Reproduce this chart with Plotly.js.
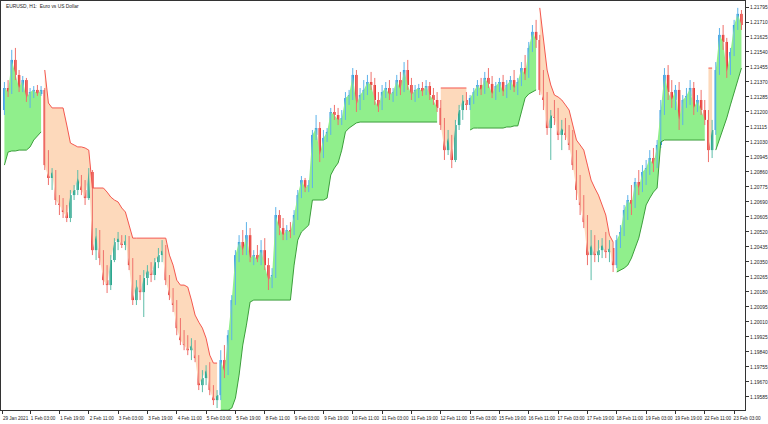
<!DOCTYPE html>
<html>
<head>
<meta charset="utf-8">
<script src="https://cdn.plot.ly/plotly-3.0.1.min.js"></script>
<style>html,body{margin:0;padding:0;background:#fff;}#chart{width:768px;height:424px;}</style>
</head>
<body>
<div id="chart"></div>
<script>
// EURUSD candles (2-hour sampling of the H1 chart), prices
const openP = [
1.21211,1.21336,1.21313,1.21495,1.21410,1.21336,1.21381,1.21279,1.21313,1.21325,
1.21302,1.21325,1.20899,1.20826,1.20860,1.20701,1.20673,1.20633,1.20599,1.20729,
1.20758,1.20826,1.20758,1.20712,1.20860,1.20417,1.20502,1.20372,1.20247,1.20219,
1.20361,1.20463,1.20485,1.20446,1.20474,1.20332,1.20134,1.20219,1.20179,1.20259,
1.20304,1.20276,1.20349,1.20389,1.20417,1.20247,1.20162,1.20106,1.19975,1.19907,
1.19879,1.19850,1.19879,1.19805,1.19652,1.19692,1.19737,1.19624,1.19567,1.19595,
1.19794,1.19726,1.19935,1.20134,1.20389,1.20463,1.20417,1.20502,1.20372,1.20389,
1.20361,1.20417,1.20332,1.20247,1.20276,1.20616,1.20542,1.20502,1.20531,1.20520,
1.20616,1.20729,1.20814,1.20769,1.20786,1.21070,1.21109,1.20956,1.21053,1.21087,
1.21200,1.21183,1.21155,1.21166,1.21279,1.21296,1.21410,1.21240,1.21296,1.21325,
1.21370,1.21353,1.21268,1.21223,1.21313,1.21336,1.21296,1.21313,1.21381,1.21325,
1.21438,1.21353,1.21296,1.21325,1.21336,1.21313,1.21347,1.21296,1.21268,1.21223,
1.21126,1.20984,1.21053,1.20928,1.21126,1.21211,1.21268,1.21240,1.21279,1.21313,
1.21353,1.21325,1.21393,1.21359,1.21302,1.21347,1.21370,1.21313,1.21353,1.21381,
1.21336,1.21370,1.21449,1.21410,1.21563,1.21654,1.21608,1.21325,1.21268,1.21109,
1.21183,1.21166,1.21070,1.21109,1.21070,1.21013,1.20899,1.20758,1.20673,1.20576,
1.20389,1.20446,1.20389,1.20417,1.20446,1.20406,1.20429,1.20332,1.20474,1.20520,
1.20644,1.20701,1.20673,1.20803,1.20769,1.20860,1.20882,1.20939,1.20899,1.21013,
1.21211,1.21410,1.21313,1.21268,1.21325,1.21155,1.21268,1.21291,1.21336,1.21223,
1.21268,1.21211,1.21155,1.20984,1.21098,1.21438,1.21637,1.21597,1.21427,1.21540,
1.21693,1.21756];
const highP = [
1.21370,1.21381,1.21552,1.21563,1.21438,1.21404,1.21393,1.21336,1.21347,1.21353,
1.21347,1.21336,1.20984,1.20882,1.20871,1.20729,1.20712,1.20673,1.20758,1.20786,
1.20871,1.20843,1.20814,1.20882,1.20871,1.20542,1.20531,1.20417,1.20332,1.20389,
1.20485,1.20520,1.20502,1.20502,1.20497,1.20372,1.20247,1.20276,1.20304,1.20332,
1.20349,1.20372,1.20429,1.20474,1.20446,1.20276,1.20202,1.20134,1.20032,1.19964,
1.19935,1.19918,1.19907,1.19822,1.19737,1.19765,1.19782,1.19652,1.19624,1.19850,
1.19879,1.19964,1.20162,1.20417,1.20502,1.20531,1.20576,1.20542,1.20417,1.20446,
1.20474,1.20485,1.20372,1.20315,1.20661,1.20644,1.20599,1.20559,1.20576,1.20644,
1.20758,1.20837,1.20826,1.20814,1.21098,1.21183,1.21143,1.21098,1.21109,1.21223,
1.21240,1.21223,1.21211,1.21313,1.21325,1.21449,1.21438,1.21336,1.21381,1.21410,
1.21427,1.21393,1.21313,1.21353,1.21370,1.21381,1.21336,1.21410,1.21427,1.21483,
1.21495,1.21393,1.21353,1.21359,1.21370,1.21381,1.21370,1.21336,1.21313,1.21268,
1.21166,1.21098,1.21070,1.21155,1.21240,1.21296,1.21313,1.21296,1.21336,1.21381,
1.21393,1.21427,1.21449,1.21404,1.21370,1.21393,1.21410,1.21381,1.21404,1.21438,
1.21393,1.21483,1.21523,1.21597,1.21693,1.21722,1.21637,1.21438,1.21313,1.21211,
1.21268,1.21223,1.21155,1.21166,1.21126,1.21098,1.20984,1.20843,1.20729,1.20616,
1.20531,1.20502,1.20474,1.20485,1.20520,1.20474,1.20463,1.20502,1.20559,1.20673,
1.20729,1.20786,1.20826,1.20871,1.20899,1.20928,1.20984,1.20996,1.21041,1.21268,
1.21449,1.21466,1.21381,1.21353,1.21370,1.21296,1.21336,1.21381,1.21370,1.21296,
1.21325,1.21268,1.21211,1.21155,1.21483,1.21676,1.21693,1.21620,1.21563,1.21722,
1.21790,1.21778];
const lowP = [
1.21183,1.21285,1.21302,1.21381,1.21313,1.21313,1.21257,1.21223,1.21279,1.21291,
1.21291,1.20871,1.20786,1.20758,1.20673,1.20616,1.20599,1.20576,1.20576,1.20701,
1.20729,1.20729,1.20673,1.20701,1.20389,1.20361,1.20332,1.20219,1.20174,1.20191,
1.20349,1.20417,1.20429,1.20417,1.20304,1.20106,1.20106,1.20134,1.20038,1.20219,
1.20236,1.20247,1.20315,1.20349,1.20219,1.20134,1.20066,1.19935,1.19879,1.19850,
1.19822,1.19794,1.19782,1.19624,1.19612,1.19652,1.19595,1.19539,1.19522,1.19567,
1.19692,1.19709,1.19907,1.20106,1.20349,1.20389,1.20389,1.20349,1.20332,1.20349,
1.20332,1.20304,1.20191,1.20202,1.20259,1.20502,1.20474,1.20474,1.20485,1.20502,
1.20588,1.20712,1.20746,1.20746,1.20769,1.21041,1.20916,1.20939,1.21030,1.21070,
1.21155,1.21126,1.21126,1.21155,1.21240,1.21268,1.21200,1.21211,1.21268,1.21296,
1.21325,1.21240,1.21200,1.21211,1.21279,1.21268,1.21257,1.21291,1.21296,1.21313,
1.21325,1.21268,1.21257,1.21279,1.21291,1.21296,1.21268,1.21240,1.21200,1.21098,
1.20928,1.20956,1.20882,1.20916,1.21098,1.21155,1.21211,1.21211,1.21245,1.21291,
1.21296,1.21302,1.21336,1.21279,1.21268,1.21313,1.21291,1.21279,1.21325,1.21313,
1.21296,1.21347,1.21381,1.21393,1.21540,1.21563,1.21296,1.21211,1.21070,1.20928,
1.21126,1.21041,1.20984,1.21041,1.20984,1.20871,1.20701,1.20616,1.20542,1.20332,
1.20247,1.20349,1.20349,1.20372,1.20372,1.20349,1.20293,1.20315,1.20429,1.20497,
1.20588,1.20616,1.20656,1.20729,1.20746,1.20786,1.20843,1.20860,1.20882,1.20996,
1.21183,1.21268,1.21223,1.21211,1.21098,1.21126,1.21223,1.21240,1.21183,1.21200,
1.21183,1.21126,1.20916,1.20939,1.21070,1.21410,1.21552,1.21393,1.21410,1.21517,
1.21665,1.21665];
const closeP = [
1.21336,1.21313,1.21495,1.21410,1.21336,1.21381,1.21279,1.21313,1.21325,1.21302,
1.21325,1.20899,1.20826,1.20860,1.20701,1.20673,1.20633,1.20599,1.20729,1.20758,
1.20826,1.20758,1.20712,1.20860,1.20417,1.20502,1.20372,1.20247,1.20219,1.20361,
1.20463,1.20485,1.20446,1.20474,1.20332,1.20134,1.20219,1.20179,1.20259,1.20304,
1.20276,1.20349,1.20389,1.20417,1.20247,1.20162,1.20106,1.19975,1.19907,1.19879,
1.19850,1.19879,1.19805,1.19652,1.19692,1.19737,1.19624,1.19567,1.19595,1.19794,
1.19726,1.19935,1.20134,1.20389,1.20463,1.20417,1.20502,1.20372,1.20389,1.20361,
1.20417,1.20332,1.20247,1.20276,1.20616,1.20542,1.20502,1.20531,1.20520,1.20616,
1.20729,1.20814,1.20769,1.20786,1.21070,1.21109,1.20956,1.21053,1.21087,1.21200,
1.21183,1.21155,1.21166,1.21279,1.21296,1.21410,1.21240,1.21296,1.21325,1.21370,
1.21353,1.21268,1.21223,1.21313,1.21336,1.21296,1.21313,1.21381,1.21325,1.21438,
1.21353,1.21296,1.21325,1.21336,1.21313,1.21347,1.21296,1.21268,1.21223,1.21126,
1.20984,1.21053,1.20928,1.21126,1.21211,1.21268,1.21240,1.21279,1.21313,1.21353,
1.21325,1.21393,1.21359,1.21302,1.21347,1.21370,1.21313,1.21353,1.21381,1.21336,
1.21370,1.21449,1.21410,1.21563,1.21654,1.21608,1.21325,1.21268,1.21109,1.21183,
1.21166,1.21070,1.21109,1.21070,1.21013,1.20899,1.20758,1.20673,1.20576,1.20389,
1.20446,1.20389,1.20417,1.20446,1.20406,1.20429,1.20332,1.20474,1.20520,1.20644,
1.20701,1.20673,1.20803,1.20769,1.20860,1.20882,1.20939,1.20899,1.21013,1.21211,
1.21410,1.21313,1.21268,1.21325,1.21155,1.21268,1.21291,1.21336,1.21223,1.21268,
1.21211,1.21155,1.20984,1.21098,1.21438,1.21637,1.21597,1.21427,1.21540,1.21693,
1.21756,1.21693];
// Trailing stop line of the indicator
const stopP = [
1.20899,1.20973,1.20979,1.20979,1.20984,1.20984,1.20984,1.21002,1.21041,1.21064,
1.21087,1.21438,1.21251,1.21223,1.21223,1.21223,1.21223,1.21126,1.21024,1.21013,
1.21002,1.21002,1.20996,1.20984,1.20769,1.20769,1.20769,1.20769,1.20746,1.20718,
1.20701,1.20690,1.20656,1.20633,1.20559,1.20485,1.20485,1.20485,1.20485,1.20485,
1.20485,1.20485,1.20485,1.20485,1.20485,1.20389,1.20332,1.20247,1.20219,1.20219,
1.20208,1.20134,1.20049,1.20009,1.19975,1.19918,1.19822,1.19777,1.19777,1.19510,
1.19510,1.19510,1.19522,1.19578,1.19709,1.19879,1.19992,1.20123,1.20134,1.20134,
1.20134,1.20134,1.20134,1.20134,1.20134,1.20134,1.20134,1.20134,1.20134,1.20332,
1.20474,1.20520,1.20542,1.20559,1.20701,1.20701,1.20701,1.20701,1.20712,1.20843,
1.20882,1.20911,1.20984,1.21087,1.21109,1.21126,1.21138,1.21143,1.21143,1.21143,
1.21143,1.21143,1.21143,1.21143,1.21143,1.21143,1.21143,1.21143,1.21143,1.21143,
1.21143,1.21143,1.21143,1.21143,1.21143,1.21143,1.21143,1.21143,1.21143,1.21336,
1.21336,1.21336,1.21336,1.21336,1.21336,1.21336,1.21336,1.21098,1.21109,1.21109,
1.21109,1.21109,1.21109,1.21109,1.21109,1.21109,1.21109,1.21115,1.21115,1.21121,
1.21121,1.21200,1.21279,1.21302,1.21313,1.21325,1.21790,1.21608,1.21438,1.21353,
1.21296,1.21285,1.21268,1.21240,1.21211,1.21126,1.21041,1.21013,1.20984,1.20899,
1.20814,1.20769,1.20729,1.20673,1.20616,1.20502,1.20463,1.20293,1.20304,1.20315,
1.20332,1.20372,1.20429,1.20485,1.20576,1.20673,1.20712,1.20746,1.20769,1.21030,
1.21041,1.21041,1.21041,1.21041,1.21041,1.21041,1.21041,1.21041,1.21041,1.21041,
1.21041,1.21041,1.21449,1.21449,1.20984,1.21041,1.21109,1.21166,1.21240,1.21313,
1.21381,1.21449];
// Axis labels
const xTickBars = [-0.5,7,15,23,31,39,47,55,63,71,79,87,95,103,111,119,127,135,143,151,159,167,175,183,191,199];
const xTickText = ['29 Jan 2021','1 Feb 03:00','1 Feb 19:00','2 Feb 11:00','3 Feb 03:00','3 Feb 19:00','4 Feb 11:00',
'5 Feb 03:00','5 Feb 19:00','8 Feb 11:00','9 Feb 03:00','9 Feb 19:00','10 Feb 11:00','11 Feb 03:00','11 Feb 19:00',
'12 Feb 11:00','15 Feb 03:00','15 Feb 19:00','16 Feb 11:00','17 Feb 03:00','17 Feb 19:00','18 Feb 11:00',
'19 Feb 03:00','19 Feb 19:00','22 Feb 11:00','23 Feb 03:00'];
const yTickVals = [1.19585,1.19670,1.19755,1.19840,1.19925,1.20010,1.20095,1.20180,1.20265,1.20350,1.20435,
1.20520,1.20605,1.20690,1.20775,1.20860,1.20945,1.21030,1.21115,1.21200,1.21285,1.21370,1.21455,1.21540,
1.21625,1.21710,1.21795];
const chartTitle = 'EURUSD, H1:  Euro vs US Dollar';

// ---- build traces ----
const N = closeP.length;
const idx = closeP.map((_, i) => i);
const isUp = closeP.map((c, i) => c > stopP[i]);
const runs = [];
let st = 0;
for (let i = 1; i <= N; i++) {
  if (i === N || isUp[i] !== isUp[st]) { runs.push({a: st, b: i - 1, up: isUp[st]}); st = i; }
}
const traces = [];
runs.forEach(r => {
  const xs = idx.slice(r.a, r.b + 1);
  traces.push({x: xs, y: stopP.slice(r.a, r.b + 1), mode: 'lines', type: 'scatter',
    line: {width: 0, color: 'rgba(0,0,0,0)'}, hoverinfo: 'skip', showlegend: false});
  traces.push({x: xs, y: closeP.slice(r.a, r.b + 1), mode: 'lines', type: 'scatter',
    line: {width: 0, color: 'rgba(0,0,0,0)'}, fill: 'tonexty',
    fillcolor: r.up ? '#90ef8c' : '#fdd9bb', hoverinfo: 'skip', showlegend: false});
});
// candle colours: rising bars blue in an uptrend, teal in a downtrend; falling bars red
const RED = '#e62f2a', BLUE = '#2594de', TEAL = '#1c9f86';
const bodyCol = idx.map(i => closeP[i] >= openP[i] ? (isUp[i] ? BLUE : TEAL) : RED);
const wickCol = idx.map(i => closeP[i] >= openP[i] ? (isUp[i] ? '#5cb2ea' : '#5cbca8') : '#ef706b');
// wicks, grouped by colour
[...new Set(wickCol)].forEach(col => {
  const wx = [], wy = [];
  idx.forEach(i => { if (wickCol[i] === col) { wx.push(i, i, null); wy.push(lowP[i], highP[i], null); } });
  traces.push({x: wx, y: wy, mode: 'lines', type: 'scatter', line: {color: col, width: 1},
    hoverinfo: 'skip', showlegend: false});
});
// bodies
traces.push({type: 'bar', x: idx, base: openP, y: idx.map(i => closeP[i] - openP[i]),
  width: 0.68, marker: {color: bodyCol, line: {width: 0}}, hoverinfo: 'skip', showlegend: false});
runs.forEach(r => {
  traces.push({x: idx.slice(r.a, r.b + 1), y: stopP.slice(r.a, r.b + 1), mode: 'lines', type: 'scatter',
    line: {width: 1, color: r.up ? '#3c9e3c' : '#f4574f'}, hoverinfo: 'skip', showlegend: false});
});

const xFont = {family: 'Liberation Sans, Arial, sans-serif', size: 4.6, color: '#222'};
const yFont = {family: 'Liberation Sans, Arial, sans-serif', size: 4.9, color: '#222'};
const layout = {
  width: 768, height: 424,
  margin: {l: 1, r: 23, t: 1, b: 14, pad: 0},
  paper_bgcolor: '#ffffff', plot_bgcolor: '#ffffff',
  showlegend: false, barmode: 'overlay',
  xaxis: {range: [-0.93, 201.97], showgrid: false, zeroline: false, showline: true, mirror: true,
    linecolor: '#333', linewidth: 1, ticks: 'outside', ticklen: 3, tickcolor: '#333',
    tickvals: xTickBars, ticktext: xTickText, tickfont: xFont, ticklabelshift: 13, tickangle: 0,
    ticklabeloverflow: 'allow', automargin: false, fixedrange: true},
  yaxis: {side: 'right', range: [1.19511, 1.21829], showgrid: false, zeroline: false, showline: true,
    mirror: true, linecolor: '#333', linewidth: 1, ticks: 'outside', ticklen: 3, tickcolor: '#333',
    tickvals: yTickVals, tickformat: '.5f', tickfont: yFont, ticklabeloverflow: 'allow',
    automargin: false, fixedrange: true},
  annotations: [{text: chartTitle, xref: 'paper', yref: 'paper', x: 0.004, y: 0.998,
    xanchor: 'left', yanchor: 'top', showarrow: false,
    font: {family: 'Liberation Sans, Arial, sans-serif', size: 4.9, color: '#222'}}]
};
Plotly.newPlot('chart', traces, layout, {displayModeBar: false, staticPlot: true});
</script>
</body>
</html>
